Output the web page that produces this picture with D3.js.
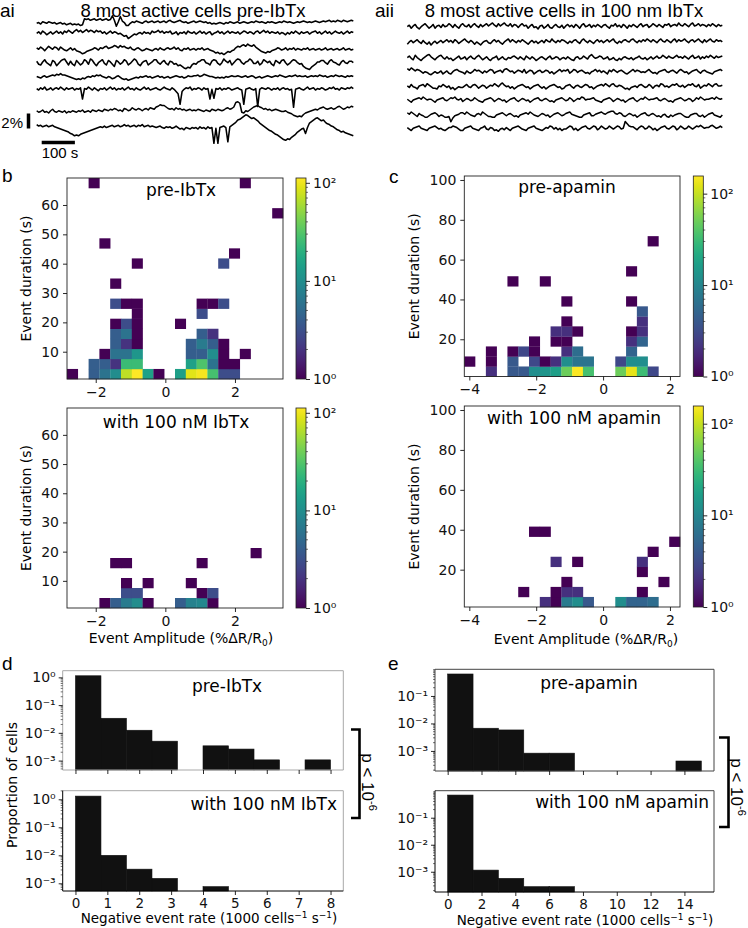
<!DOCTYPE html>
<html><head><meta charset="utf-8">
<script src="https://cdn.jsdelivr.net/npm/d3@7"></script>
<style>body{margin:0;background:#fff}</style>
</head><body>
<svg id="fig" width="748" height="928"></svg>
<script>
// ------------------------- DATA -------------------------
const traceSampleInterval = 6; // s per sample
// units: 0.1 %ΔR/R0, upward positive
const tracesPreIbTx = [
 [0,1,-1,2,1,0,2,1,0,1,-1,0,1,-1,0,-2,-1,0,-2,-1,
  -2,-1,-3,-2,6,5,6,4,5,6,4,5,6,4,5,6,4,5,10,4,
  -4,2,9,3,1,-3,-3,0,2,1,3,2,1,0,2,3,1,2,3,1,
  2,3,1,2,3,1,3,4,2,1,2,3,4,2,1,2,0,1,2,3,
  1,2,3,2,1,2,0,1,-1,0,-1,0,1,0,-1,1,0,2,1,0,
  1,2,0,1,2,1,0,1,2,1,3,2,1,2,1,0,2,1,2,1,
  0,1,2,1,3,2,1,2,1,0,1,2,1,2,3,2,1,2,1,2,
  3,2,1,2,3,2,3,4,2,3,2,4,3,2,4,3,2,3,4,3],
 [0,2,-1,3,1,-2,0,2,-1,1,3,0,2,-1,3,1,4,2,0,3,
  5,2,4,1,3,5,2,4,3,1,4,2,3,0,2,-1,1,3,0,2,
  1,-1,0,-2,-4,-3,-7,-5,-3,-1,-2,0,1,-1,2,0,1,-1,3,1,
  2,4,1,3,0,2,1,3,-1,0,2,-2,1,0,2,-1,3,1,0,2,
  -1,1,3,0,2,-1,1,2,-2,0,1,3,0,2,-1,1,3,0,2,1,
  0,2,-1,1,3,2,0,2,1,-1,2,3,0,2,4,1,3,0,2,1,
  0,2,-1,1,0,-2,1,-1,2,0,3,1,-1,2,0,1,2,-1,1,2,
  3,0,2,-1,1,3,0,2,-1,1,3,1,0,2,-1,1,3,0,2,1],
 [2,0,3,1,-2,1,4,2,0,3,2,-1,3,1,-1,-2,0,2,-1,1,
  -2,-3,-4,-6,-5,-3,-2,-1,0,2,1,-1,2,1,3,4,1,2,3,5,
  4,2,5,3,4,2,1,3,0,-1,1,2,0,-2,-1,1,0,-1,-2,0,
  1,-1,2,0,-1,1,2,0,1,3,0,2,-1,-2,1,0,2,-1,0,1,
  -1,1,0,2,-1,0,1,-1,-2,-3,-5,-4,-6,-5,-7,-5,-3,-4,-2,-1,
  2,4,3,5,6,4,7,5,4,6,3,1,-1,-3,-4,-5,-3,-4,-2,-1,
  0,2,1,-1,0,2,-1,1,0,2,-1,1,0,-1,1,0,2,-1,0,1,
  -1,0,1,-1,0,2,-1,0,1,-1,0,1,-1,0,2,-1,0,1,-1,0],
 [2,-2,-3,1,4,0,-2,-4,3,1,-4,-1,2,4,5,1,-3,2,-2,-4,
  3,0,-3,-1,4,2,-2,5,3,-1,-4,0,2,4,-1,-3,3,1,-2,-5,
  3,1,-2,0,4,2,-3,-1,2,5,3,-2,-4,0,2,3,-3,-1,1,4,
  4,0,-2,1,3,-1,-3,2,1,-2,-1,-4,-3,-5,-7,-8,-6,-7,-3,-1,
  -2,1,2,4,4,0,-1,-3,2,4,3,-1,-3,0,5,2,0,3,-3,0,
  3,5,4,0,-2,1,2,5,3,-1,-1,2,-3,-1,4,2,0,2,-2,-4,
  3,1,-1,3,4,0,-3,-1,2,4,3,0,-2,-1,-5,-7,-8,-9,-6,-4,
  -2,1,1,3,3,0,-2,2,4,1,0,-2,-3,1,3,0,-1,2,2,0],
 [1,0,-1,1,2,0,1,2,3,2,4,3,5,3,3,2,1,0,-1,-2,
  -3,-2,-3,-1,-2,0,1,0,2,1,3,2,3,1,0,-1,1,0,-2,-1,
  1,2,0,-2,-3,-2,-4,-3,-2,-1,0,-1,1,0,1,2,0,1,-1,0,
  1,2,0,1,-1,0,1,-1,0,1,2,1,0,1,-1,0,2,1,1,2,
  2,3,1,2,4,3,2,1,1,0,-1,0,-1,0,-1,1,0,1,2,1,
  1,2,1,0,1,2,0,1,2,1,-1,0,1,-1,0,1,2,1,0,1,
  2,1,3,2,1,0,1,2,1,2,3,1,2,1,1,2,0,1,2,1,
  2,1,3,2,1,2,0,1,2,1,3,2,1,2,1,0,2,1,2,1],
 [1,-1,2,0,3,-1,0,2,-1,1,2,0,3,1,-1,2,0,1,2,-1,
  1,0,2,-13,1,0,3,1,-1,2,0,-2,1,0,2,-1,1,3,0,2,
  -1,1,0,2,-1,1,3,0,1,-1,2,0,-1,1,3,0,2,-1,0,1,
  2,0,-1,1,3,1,0,-1,2,0,-3,-6,-20,-3,0,2,1,3,-1,1,
  0,2,1,-1,2,0,1,-13,0,-12,1,0,2,-1,1,0,2,1,-1,0,
  1,2,0,-1,-20,0,1,2,0,-1,1,-23,0,2,1,0,2,1,-1,1,
  0,2,-1,1,2,0,1,-1,0,-24,0,1,2,0,-1,1,3,0,1,2,
  -1,1,0,2,1,-1,0,2,1,3,0,1,-1,2,1,0,2,1,3,1],
 [-1,-3,-2,0,-3,-2,-4,-1,1,-2,-3,-1,-2,-3,-1,-4,-2,-3,-1,-2,
  -3,-1,-2,0,-3,-2,-1,-3,0,-1,-2,0,-1,-2,1,0,-1,1,0,2,
  1,-1,0,-2,2,1,-1,0,3,1,0,2,1,-1,1,2,0,3,2,1,
  4,5,7,6,6,4,2,1,2,0,3,1,2,0,1,-1,0,1,-1,0,
  -1,1,0,-1,-2,0,-1,-2,1,0,-1,1,0,-1,0,2,3,1,2,4,
  10,11,9,-3,-4,-1,-2,0,2,4,5,6,4,3,1,2,0,1,-1,0,
  1,0,-1,-2,-2,-1,-3,-4,-5,-7,-8,-9,-8,-9,-6,-4,-3,-2,-1,0,
  1,0,2,3,4,2,1,2,3,1,2,4,5,3,1,2,4,3,5,4],
 [5,3,4,2,3,4,2,3,4,2,1,0,-1,-2,-3,-4,-5,-7,-8,-10,
  -9,-10,-8,-7,-6,-5,-4,-3,-2,-1,0,1,2,1,3,1,2,3,4,2,
  3,4,2,3,5,3,4,2,3,4,2,4,3,5,2,3,4,2,3,2,
  1,2,3,1,0,2,1,2,0,1,3,1,-1,0,-2,1,0,-1,1,0,
  1,-1,2,0,1,-1,2,0,1,-20,0,-20,1,2,3,1,-18,2,4,6,
  8,11,12,14,16,18,17,15,13,14,12,10,7,5,3,1,-1,-3,-4,-6,
  -8,-9,-11,-13,-15,-16,-14,-15,-12,-10,-8,-5,-3,-1,0,-7,1,7,9,11,
  13,14,12,10,11,8,6,5,3,2,0,-2,-3,-5,-4,-6,-7,-8,-9,-10]
];
const tracesIbTx = [
 [0,2,-2,1,3,-1,-3,0,2,4,1,-2,0,3,-2,1,2,-1,3,0,
  1,4,2,-1,3,0,-2,2,4,1,0,3,-1,2,4,1,-1,3,0,2,
  4,1,3,5,2,0,4,1,3,5,2,1,4,0,3,2,-1,2,4,1,
  2,-2,1,3,-1,0,-3,1,2,-2,0,3,-1,-2,1,3,0,-1,2,-2,
  1,3,0,2,-1,3,1,-2,2,4,0,1,3,-1,2,0,3,1,-1,2,
  3,0,-2,2,1,4,0,2,-1,3,1,-2,2,0,3,1,-1,2,4,0,
  2,3,-1,1,4,2,0,3,1,-1,3,2,4,0,2,3,1,5,2,1,
  4,2,0,3,5,1,2,4,1,3,2,0,3,1,4,2,0,3,1,2],
 [-2,1,3,0,2,4,1,-1,3,0,-2,1,-3,0,2,-1,1,3,0,2,
  4,1,3,0,4,2,-1,1,3,5,2,0,3,1,-2,1,-1,-3,0,2,
  3,0,-1,2,4,1,3,0,-2,1,3,5,1,4,2,0,3,1,4,2,
  0,-2,1,3,0,2,-1,1,3,0,4,2,1,5,2,0,3,1,4,3,
  1,-1,2,0,3,4,1,-1,3,5,2,0,3,1,-1,2,4,1,3,0,
  2,4,1,3,5,1,-1,2,0,3,4,2,1,4,5,2,0,3,1,4,
  2,5,3,1,4,2,0,3,5,2,1,4,2,0,3,5,1,4,2,3,
  5,2,0,3,4,1,3,5,2,0,4,1,3,5,2,1,4,2,3,1],
 [1,3,0,-2,4,1,-1,-3,0,2,4,5,2,0,-2,1,3,4,1,-1,
  2,-1,0,-3,-1,1,3,-1,0,2,-2,1,3,0,-1,2,4,1,-2,0,
  2,-1,-3,0,1,3,-2,0,2,-1,-2,1,0,2,3,1,-1,2,0,-2,
  3,1,-1,2,0,-3,-1,1,2,0,-2,1,3,-1,0,2,1,-2,0,1,
  -1,2,0,-2,-3,1,2,-1,0,3,1,-1,3,5,2,0,1,3,2,-1,
  0,2,-2,-1,1,-2,-3,0,-2,1,2,0,-1,1,-2,0,1,3,0,-1,
  1,-2,0,2,-1,1,3,0,1,4,2,0,3,1,0,2,4,1,2,0,
  3,1,-1,2,4,0,1,3,-1,2,0,3,1,4,2,0,3,1,2,3],
 [4,2,5,3,1,3,2,0,-2,0,-1,-3,-4,-2,0,-2,-1,1,-3,-1,
  1,-2,-3,0,2,3,1,0,-1,-3,1,-1,-2,0,3,1,2,0,-2,1,
  -1,1,3,2,-2,0,1,2,-1,3,4,2,0,1,-2,0,2,1,-1,3,
  -2,0,2,1,-3,-1,1,2,-1,0,2,1,-2,0,-3,-1,1,3,0,2,
  1,3,-2,0,3,2,-1,1,2,0,-2,-1,-3,0,1,3,0,2,-1,1,
  -1,-3,2,0,3,1,-1,1,2,0,-2,-3,-1,1,3,0,2,1,-1,0,
  -1,1,3,0,-2,-1,-3,0,1,2,3,0,-1,1,2,0,-2,1,3,1,
  -1,0,-3,-1,1,2,3,0,-2,1,2,0,-1,-2,-3,0,1,2,3,1],
 [1,-1,3,0,-1,-3,1,2,3,0,4,2,0,-2,-2,-3,1,0,3,1,
  -1,1,-3,-1,-4,-2,0,-1,-1,1,3,0,-1,2,3,1,-2,0,2,1,
  -2,0,2,1,4,2,0,3,5,2,0,1,-2,0,-3,-1,1,2,3,1,
  -1,0,-3,-1,1,2,3,0,-2,0,-3,-1,1,2,3,1,-1,0,-3,-2,
  1,2,3,0,-2,1,2,0,-1,1,3,2,-1,0,-3,-1,1,2,3,1,
  4,2,0,3,4,1,0,2,1,-1,-3,-2,-4,-1,0,1,-1,2,3,1,
  -1,0,3,1,-2,1,2,0,4,3,0,1,-1,1,3,2,4,1,0,2,
  -1,1,3,2,4,1,0,3,-2,0,2,1,4,2,0,3,4,1,1,2],
 [1,-1,-3,0,1,2,3,1,4,2,0,1,1,-1,-3,0,1,2,3,0,
  -1,1,3,2,4,1,0,2,-2,0,2,1,-1,0,3,1,-1,-2,-3,0,
  1,2,3,1,-2,0,2,1,-1,0,-3,-1,1,2,3,0,-2,0,2,1,
  -1,0,-3,-1,1,2,3,0,-1,1,2,0,-2,-1,-3,0,1,2,3,1,
  -1,0,3,1,-2,0,2,1,4,3,0,1,1,2,3,0,-1,-2,-3,0,
  1,2,3,1,-2,0,2,1,-1,0,-3,-1,1,2,3,0,-2,0,2,1,
  4,2,0,1,1,2,3,0,-1,1,2,0,-2,-1,-3,0,1,2,3,1,
  -1,0,2,1,-2,0,3,1,4,2,0,1,1,2,3,1,4,2,1,2],
 [3,1,4,2,0,-2,2,0,-1,-3,-3,-1,1,2,3,1,-2,0,-1,-3,
  -3,-2,-9,-4,-1,0,1,3,3,1,4,2,0,-1,-2,1,2,0,4,2,
  0,-2,-2,-3,-3,0,1,2,3,1,-1,1,2,0,-2,-1,-3,0,1,2,
  3,1,4,2,0,-1,-2,0,2,1,-1,0,-3,-1,1,2,3,1,-1,0,
  2,3,4,1,0,-1,-2,-3,-3,0,1,2,3,-1,-1,1,2,3,4,2,
  1,3,4,5,5,2,1,3,2,-1,-2,0,2,1,-1,0,-3,-1,1,2,
  3,0,-1,1,2,0,-2,-1,-3,0,1,-2,-3,0,-2,0,1,2,2,0,
  -2,-3,-3,0,1,2,2,-1,-2,0,-3,-1,1,2,3,0,-1,-2,-3,0],
 [1,-1,-3,0,1,2,3,0,-1,-2,-3,0,1,2,3,1,-1,0,-2,-3,
  -1,1,1,3,2,1,-1,-3,-3,0,1,2,3,0,-1,-2,-3,0,1,3,
  -1,-2,1,0,-3,-2,-4,-1,0,-2,1,-1,-3,0,1,2,3,1,-1,-2,
  -3,0,1,2,3,0,-1,-2,-3,-1,1,0,3,2,-1,1,-2,0,-3,-1,
  -1,1,3,2,-2,0,-3,-1,1,2,3,0,-1,1,3,2,-2,0,3,1,
  -1,0,3,1,-1,1,3,2,-1,0,9,6,3,2,2,0,-2,1,3,2,
  -1,0,3,1,-2,0,-3,-1,1,2,3,0,-1,1,3,2,-2,0,3,1,
  -1,0,3,1,-1,1,3,2,4,2,0,1,1,3,4,2,0,1,3,1]
];

// 2D histograms: [amplitude bin, duration bin, count]
const nBins = 20;
const bAmpRange = [-2.825, 3.38], bDurRange = [0.7, 69.2];
const cAmpRange = [-4.15, 2.30], cDurRange = [1.3, 102];
const heatPreIbTx = [
 [0,0,1],[2,0,4],[3,0,6],[4,0,10],[5,0,70],[6,0,110],[7,0,15],[8,0,1],[10,0,14],[11,0,90],[12,0,105],[13,0,28],[14,0,3],[15,0,3],
 [2,1,4],[3,1,4],[4,1,2],[5,1,25],[6,1,25],[11,1,15],[12,1,30],[13,1,6],[14,1,1],[15,1,1],
 [3,2,1],[4,2,6],[5,2,6],[6,2,12],[11,2,4],[12,2,4],[13,2,10],[14,2,1],[16,2,1],
 [4,3,4],[5,3,2],[6,3,1],[11,3,4],[12,3,7],[13,3,4],[14,3,1],
 [4,4,4],[5,4,6],[6,4,1],[12,4,4],[13,4,2],
 [4,5,1],[5,5,3],[6,5,1],[10,5,1],
 [6,6,1],[12,6,3],
 [4,7,3],[5,7,1],[6,7,1],[12,7,1],[13,7,1],[14,7,3],
 [4,9,1],[6,11,1],[14,11,3],[15,12,1],[3,13,1],[19,16,1],[2,19,1],[16,19,1]
];
const heatIbTx = [
 [3,0,1],[4,0,4],[5,0,7],[6,0,10],[7,0,1],[10,0,4],[11,0,8],[12,0,9],[13,0,1],
 [5,1,3],[6,1,3],[12,1,1],[13,1,3],
 [5,2,1],[7,2,1],[11,2,1],
 [4,4,1],[5,4,1],[12,4,1],
 [17,5,1]
];
const heatPreApamin = [
 [2,0,2],[4,0,4],[5,0,4],[6,0,12],[7,0,14],[8,0,17],[9,0,50],[10,0,150],[11,0,35],[14,0,50],[15,0,130],[16,0,32],[17,0,3],
 [0,1,1],[2,1,1],[4,1,4],[6,1,3],[7,1,1],[8,1,2],[9,1,12],[10,1,7],[11,1,7],[14,1,3],[15,1,12],[16,1,12],
 [2,2,1],[4,2,1],[5,2,3],[6,2,1],[9,2,2],[10,2,6],[15,2,5],
 [6,3,1],[8,3,1],[9,3,1],[15,3,2],[16,3,5],
 [8,4,2],[9,4,2],[10,4,1],[15,4,1],[16,4,2],
 [9,5,1],[16,5,2],
 [16,6,4],
 [9,7,1],[15,7,1],
 [4,9,1],[7,9,1],[15,10,1],[17,13,1]
];
const heatApamin = [
 [7,0,2],[8,0,1],[9,0,8],[10,0,12],[11,0,4],[14,0,12],[15,0,5],[16,0,5],[17,0,6],
 [5,1,1],[8,1,1],[9,1,2],[10,1,2],[16,1,1],
 [9,2,1],[18,2,1],
 [16,3,1],
 [8,4,2],[10,4,1],[16,4,2],
 [17,5,1],
 [19,6,1],
 [6,7,1],[7,7,1]
];
const vmaxB = 112, vmaxC = 156;

// rate histograms
const rateEdgesD = [0,0.8,1.6,2.4,3.2,4.0,4.8,5.6,6.4,7.2,8.0];
const propPreIbTx = [1.14,0.0335,0.0124,0.005,0,0.0034,0.0026,0.00106,0,0.00106];
const propIbTx    = [1.3,0.01,0.0032,0.0015,0,0.00076,0,0,0,0];
const rateEdgesE = [0,1.5,3,4.5,6,7.5,9,10.5,12,13.5,15];
const propPreApamin = [0.63,0.0067,0.0058,0.00083,0.00083,0,0,0,0,0.00043];
const propApamin    = [0.69,0.00115,0.00057,0.00028,0.00028,0,0,0,0,0];
const rateTicksD = [0,1,2,3,4,5,6,7,8];
const rateTicksE = [0,2,4,6,8,10,12,14];

// ------------------------- DRAWING -------------------------
const svg = d3.select('#fig');
const MPL = "'DejaVu Sans', sans-serif";
const ARIAL = "'Liberation Sans', Arial, sans-serif";
const SUP = {'0':'⁰','1':'¹','2':'²','3':'³','4':'⁴','5':'⁵','6':'⁶','7':'⁷','8':'⁸','9':'⁹','-':'⁻'};
const supPow = k => '10' + String(k).split('').map(c => SUP[c]).join('');
const fmtNum = d => d < 0 ? '\u2212' + (-d) : String(d);

function txt(x, y, s, size, font, anchor = 'start', rot = 0) {
  return svg.append('text')
    .attr('transform', `translate(${x},${y}) rotate(${rot})`)
    .attr('font-size', size).attr('font-family', font)
    .attr('text-anchor', anchor).attr('fill', '#000').text(s);
}
function styleAxis(g, size = 14) {
  g.select('.domain').remove();
  g.selectAll('text').attr('font-family', MPL).attr('font-size', size).attr('fill', '#111');
  g.selectAll('line').attr('stroke', '#111').attr('stroke-width', 0.9);
}

// panel letters
txt(0, 17, 'ai', 19, ARIAL);
txt(375, 17, 'aii', 19, ARIAL);
txt(2, 182, 'b', 19, ARIAL);
txt(389, 183, 'c', 19, ARIAL);
txt(2, 670, 'd', 19, ARIAL);
txt(388, 670, 'e', 19, ARIAL);

// ---- traces
txt(193, 17, '8 most active cells pre-IbTx', 18.5, ARIAL, 'middle');
txt(564, 17, '8 most active cells in 100 nm IbTx', 18.5, ARIAL, 'middle');

const ysTrace = d3.scaleLinear().domain([0, 20]).range([0, -15]); // 2 % = 15 px
function drawTraces(traces, x0, x1, baselines, sw) {
  let xsRef;
  traces.forEach((tr, k) => {
    const xs = d3.scaleLinear().domain([0, (tr.length - 1) * traceSampleInterval]).range([x0, x1]);
    if (!xsRef) xsRef = xs;
    svg.append('path')
      .attr('d', d3.line().x((d, i) => xs(i * traceSampleInterval)).y(d => baselines[k] + ysTrace(d))(tr))
      .attr('fill', 'none').attr('stroke', '#000').attr('stroke-width', sw)
      .attr('stroke-linejoin', 'round');
  });
  return xsRef;
}
const xsA = drawTraces(tracesPreIbTx, 36.7, 353.3, [23.3, 33.3, 49.3, 62.7, 77.3, 89.3, 110, 128.3], 1.55);
drawTraces(tracesIbTx, 407.3, 722.3, [26.7, 42.7, 58.3, 71.7, 86.7, 100, 115, 128.3], 1.55);
// scale bars
svg.append('line').attr('x1', 28.5).attr('x2', 28.5).attr('y1', 128.5).attr('y2', 128.5 + ysTrace(20))
  .attr('stroke', '#000').attr('stroke-width', 3.5);
svg.append('line').attr('x1', 41.7).attr('x2', 41.7 + xsA(100) - xsA(0)).attr('y1', 142.5).attr('y2', 142.5)
  .attr('stroke', '#000').attr('stroke-width', 3.5);
txt(23, 128, '2%', 15, ARIAL, 'end');
txt(60, 158, '100 s', 15, ARIAL, 'middle');

// ---- heatmaps
let gradN = 0;
function heatmap(o) {
  const [x0, y0, x1, y1] = o.rect;
  const xs = d3.scaleLinear().domain(o.xDom).range([x0, x1]);
  const ys = d3.scaleLinear().domain(o.yDom).range([y1, y0]);
  const bw = (o.xDom[1] - o.xDom[0]) / nBins, bh = (o.yDom[1] - o.yDom[0]) / nBins;
  const color = d3.scaleSequentialLog(d3.interpolateViridis).domain([1, o.vmax]);
  const g = svg.append('g');
  g.selectAll('rect.cell').data(o.cells).join('rect')
    .attr('x', d => xs(o.xDom[0] + d[0] * bw))
    .attr('y', d => ys(o.yDom[0] + (d[1] + 1) * bh))
    .attr('width', xs(o.xDom[0] + bw) - xs(o.xDom[0]) + 0.25)
    .attr('height', ys(o.yDom[0]) - ys(o.yDom[0] + bh) + 0.25)
    .attr('fill', d => color(d[2]));
  g.append('rect').attr('x', x0).attr('y', y0).attr('width', x1 - x0).attr('height', y1 - y0)
    .attr('fill', 'none').attr('stroke', '#222').attr('stroke-width', 0.9);
  const gx = g.append('g').attr('transform', `translate(0,${y1})`)
    .call(d3.axisBottom(xs).tickValues(o.xticks).tickSize(4).tickPadding(4).tickFormat(fmtNum));
  styleAxis(gx);
  const gy = g.append('g').attr('transform', `translate(${x0},0)`)
    .call(d3.axisLeft(ys).tickValues(o.yticks).tickSize(4).tickPadding(4));
  styleAxis(gy);
  txt(o.ylabX, (y0 + y1) / 2, 'Event duration (s)', 14, MPL, 'middle', -90);
  txt(o.titleX, o.titleY, o.title, 17, MPL, 'middle');
  // colorbar
  const cx = o.cbarX, cw = 10;
  const id = 'vg' + (gradN++);
  const grad = svg.append('defs').append('linearGradient').attr('id', id)
    .attr('x1', 0).attr('y1', 1).attr('x2', 0).attr('y2', 0);
  d3.range(0, 1.0001, 0.05).forEach(t => grad.append('stop').attr('offset', t).attr('stop-color', d3.interpolateViridis(t)));
  g.append('rect').attr('x', cx).attr('y', y0).attr('width', cw).attr('height', y1 - y0)
    .attr('fill', `url(#${id})`).attr('stroke', '#222').attr('stroke-width', 0.8);
  const cs = d3.scaleLog().domain([1, o.vmax]).range([y1, y0]);
  const gc = g.append('g').attr('transform', `translate(${cx + cw},0)`)
    .call(d3.axisRight(cs).tickValues([1, 10, 100]).tickSize(4).tickPadding(3)
      .tickFormat(d => supPow(Math.round(Math.log10(d)))));
  styleAxis(gc);
  const minor = [];
  [1, 10, 100].forEach(b => d3.range(2, 10).forEach(m => { if (b * m <= o.vmax) minor.push(b * m); }));
  g.selectAll('line.mn').data(minor).join('line')
    .attr('x1', cx + cw).attr('x2', cx + cw + 2).attr('y1', d => cs(d)).attr('y2', d => cs(d))
    .attr('stroke', '#111').attr('stroke-width', 0.6);
  if (o.xlabel) {
    const t = txt(o.xlabX, o.xlabY, '', 14, MPL, 'middle');
    t.append('tspan').text('Event Amplitude (%ΔR/R');
    t.append('tspan').attr('font-size', 9).attr('dy', 3).text('0');
    t.append('tspan').attr('dy', -3).text(')');
  }
}
heatmap({cells: heatPreIbTx, xDom: bAmpRange, yDom: bDurRange, rect: [67, 178, 283, 379], vmax: vmaxB,
  xticks: [-2, 0, 2], yticks: [10, 20, 30, 40, 50, 60], title: 'pre-IbTx', titleX: 181, titleY: 196,
  ylabX: 31, cbarX: 296});
heatmap({cells: heatIbTx, xDom: bAmpRange, yDom: bDurRange, rect: [67, 408, 283, 608], vmax: vmaxB,
  xticks: [-2, 0, 2], yticks: [10, 20, 30, 40, 50, 60], title: 'with 100 nM IbTx', titleX: 176, titleY: 428,
  ylabX: 31, cbarX: 296, xlabel: true, xlabX: 181, xlabY: 643});
heatmap({cells: heatPreApamin, xDom: cAmpRange, yDom: cDurRange, rect: [464.3, 176, 680, 376.5], vmax: vmaxC,
  xticks: [-4, -2, 0, 2], yticks: [20, 40, 60, 80, 100], title: 'pre-apamin', titleX: 567, titleY: 193,
  ylabX: 419, cbarX: 693.3});
heatmap({cells: heatApamin, xDom: cAmpRange, yDom: cDurRange, rect: [464.3, 406, 680, 607], vmax: vmaxC,
  xticks: [-4, -2, 0, 2], yticks: [20, 40, 60, 80, 100], title: 'with 100 nM apamin', titleX: 574, titleY: 424,
  ylabX: 419, cbarX: 693.3, xlabel: true, xlabX: 586, xlabY: 644});

// ---- rate histograms
function hist(o) {
  const [x0, y0, x1, y1] = o.rect;
  const xs = d3.scaleLinear().domain(o.xDom).range([x0, x1]);
  const ys = d3.scaleLog().domain(o.yDom).range([y1, y0]);
  const g = svg.append('g');
  const bars = o.values.map((v, i) => ({v, a: o.edges[i], b: o.edges[i + 1]})).filter(d => d.v > 0);
  g.selectAll('rect.bar').data(bars).join('rect')
    .attr('x', d => xs(d.a)).attr('width', d => xs(d.b) - xs(d.a))
    .attr('y', d => ys(d.v)).attr('height', d => y1 - ys(d.v))
    .attr('fill', '#111').attr('stroke', '#111').attr('stroke-width', 0.6);
  const sp = o.spines; // [top, right, bottom, left]
  g.append('line').attr('x1', x0).attr('x2', x1).attr('y1', y0).attr('y2', y0).attr('stroke', sp[0]).attr('stroke-width', 1);
  g.append('line').attr('x1', x1).attr('x2', x1).attr('y1', y0).attr('y2', y1).attr('stroke', sp[1]).attr('stroke-width', 1);
  g.append('line').attr('x1', x0).attr('x2', x1).attr('y1', y1).attr('y2', y1).attr('stroke', sp[2]).attr('stroke-width', 1);
  g.append('line').attr('x1', x0).attr('x2', x0).attr('y1', y0).attr('y2', y1).attr('stroke', sp[3]).attr('stroke-width', 1);
  const gx = g.append('g').attr('transform', `translate(0,${y1})`)
    .call(d3.axisBottom(xs).tickValues(o.xticks).tickSize(4).tickPadding(3).tickFormat(o.showX ? fmtNum : () => ''));
  styleAxis(gx, 13.5);
  const gy = g.append('g').attr('transform', `translate(${x0},0)`)
    .call(d3.axisLeft(ys).tickValues(o.yticks.map(k => Math.pow(10, k))).tickSize(4).tickPadding(3)
      .tickFormat(d => supPow(Math.round(Math.log10(d)))));
  styleAxis(gy);
  const minor = [];
  for (let k = -5; k <= 1; k++) d3.range(2, 10).forEach(m => {
    const v = m * Math.pow(10, k); if (v >= o.yDom[0] && v <= o.yDom[1]) minor.push(v); });
  g.selectAll('line.mn').data(minor).join('line')
    .attr('x1', x0).attr('x2', x0 - 2).attr('y1', d => ys(d)).attr('y2', d => ys(d))
    .attr('stroke', '#111').attr('stroke-width', 0.6);
  txt(o.titleX, o.titleY, o.title, 17, MPL, o.titleAnchor);
  if (o.showX) {
    const t = txt(o.xlabX, o.xlabY, '', 13.5, MPL, 'middle');
    t.append('tspan').text('Negative event rate (1000 cells');
    t.append('tspan').attr('font-size', 9).attr('dy', -5).text('\u22121');
    t.append('tspan').attr('dy', 5).text(' s');
    t.append('tspan').attr('font-size', 9).attr('dy', -5).text('\u22121');
    t.append('tspan').attr('dy', 5).text(')');
  }
}
const GR = '#a8a8a8', DK = '#444', BK = '#000';
hist({edges: rateEdgesD, values: propPreIbTx, xDom: [-0.4, 8.4], yDom: [Math.pow(10, -3.34), Math.pow(10, 0.24)],
  rect: [62.7, 670.7, 343.3, 770], xticks: rateTicksD, showX: false, yticks: [0, -1, -2, -3],
  title: 'pre-IbTx', titleX: 227, titleY: 692, titleAnchor: 'middle', spines: [GR, GR, GR, GR]});
hist({edges: rateEdgesD, values: propIbTx, xDom: [-0.4, 8.4], yDom: [Math.pow(10, -3.275), Math.pow(10, 0.307)],
  rect: [62.7, 790.7, 343.3, 891], xticks: rateTicksD, showX: true, yticks: [0, -1, -2, -3],
  title: 'with 100 nM IbTx', titleX: 337, titleY: 810, titleAnchor: 'end', spines: [GR, GR, BK, BK],
  xlabX: 209, xlabY: 923});
hist({edges: rateEdgesE, values: propPreApamin, xDom: [-0.75, 15.75], yDom: [Math.pow(10, -3.73), Math.pow(10, -0.03)],
  rect: [435, 669.3, 714, 771], xticks: rateTicksE, showX: false, yticks: [-1, -2, -3],
  title: 'pre-apamin', titleX: 589, titleY: 689, titleAnchor: 'middle', spines: [DK, DK, DK, DK]});
hist({edges: rateEdgesE, values: propApamin, xDom: [-0.75, 15.75], yDom: [Math.pow(10, -3.75), Math.pow(10, 0)],
  rect: [435, 790.7, 714, 892], xticks: rateTicksE, showX: true, yticks: [-1, -2, -3],
  title: 'with 100 nM apamin', titleX: 709, titleY: 808, titleAnchor: 'end', spines: [DK, DK, BK, BK],
  xlabX: 585, xlabY: 925});

txt(17, 785, 'Proportion of cells', 14, MPL, 'middle', -90);

// significance brackets
function bracket(xl, xr, yt, yb, tx, ty) {
  svg.append('path').attr('d', `M${xl},${yt}H${xr}V${yb}H${xl}`)
    .attr('fill', 'none').attr('stroke', '#000').attr('stroke-width', 2.6);
  const t = txt(tx, ty, '', 17, ARIAL, 'middle', 90);
  t.append('tspan').text('p < 10');
  t.append('tspan').attr('font-size', 11).attr('dy', -7).text('-6');
}
bracket(351, 359.5, 729.5, 818, 362, 782);
bracket(719, 728.5, 737.5, 827, 731, 787);
</script></body></html>
